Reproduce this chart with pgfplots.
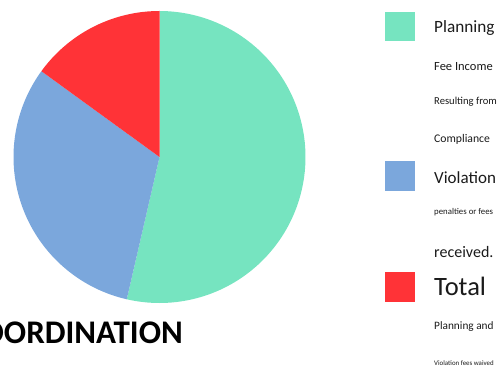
\documentclass[border=0pt]{standalone}
\usepackage{pgfplots}
\usepackage{pgfplotstable}
\pgfplotsset{compat=1.18}
\usepackage{fontspec}
\setmainfont{Carlito}
\definecolor{pgreen}{HTML}{76E4C0}
\definecolor{pblue}{HTML}{7BA7DC}
\definecolor{pred}{HTML}{FF3337}
\definecolor{ptext}{HTML}{1A1A1A}
\pgfplotstableread{
label value
Planning 53.6
Violation 31.4
Total 15.0
}\piedata
\newcommand{\fs}[1]{\fontsize{#1bp}{#1bp}\selectfont}
\begin{document}
\begin{tikzpicture}[x=1bp,y=1bp]
\useasboundingbox (0,0) rectangle (499,367);
\clip (0,0) rectangle (499,367);
\pgfplotstablegetelem{0}{value}\of\piedata \pgfmathsetmacro\va{\pgfplotsretval}
\pgfplotstablegetelem{1}{value}\of\piedata \pgfmathsetmacro\vb{\pgfplotsretval}
\pgfplotstablegetelem{2}{value}\of\piedata \pgfmathsetmacro\vc{\pgfplotsretval}
\pgfmathsetmacro\tot{\va+\vb+\vc}
\pgfmathsetmacro\aA{90-3.6*(\va/\tot)*100}
\pgfmathsetmacro\aB{\aA-3.6*(\vb/\tot)*100}
\begin{axis}[at={(159.5bp,210bp)}, anchor=center, x=146bp, y=146bp,
  xmin=-1, xmax=1, ymin=-1, ymax=1, hide axis, clip=false,
  samples=120, variable=\t]
\addplot[draw=none, fill=pgreen, domain=\aA:90] ({cos(\t)},{sin(\t)}) -- (0,0) -- cycle;
\addplot[draw=none, fill=pblue, domain=\aB:\aA] ({cos(\t)},{sin(\t)}) -- (0,0) -- cycle;
\addplot[draw=none, fill=pred, domain=-270:\aB] ({cos(\t)},{sin(\t)}) -- (0,0) -- cycle;
\end{axis}
% legend
\fill[pgreen] (385,326) rectangle (415,355);
\fill[pblue] (385,176) rectangle (415,206);
\fill[pred] (385,65) rectangle (415,95);
\begin{scope}[every node/.style={anchor=base west, inner sep=0pt, text=ptext}]
\node[font=\fs{17.2}] at (434,335) {Planning};
\node[font=\fs{12.5}] at (434,297) {Fee Income};
\node[font=\fs{10.6}] at (434,263) {Resulting from};
\node[font=\fs{11.7}] at (434,225) {Compliance};
\node[font=\fs{17}] at (434,184) {Violation};
\node[font=\fs{8.8}] at (434,153) {penalties or fees};
\node[font=\fs{16}] at (434,110) {received.};
\node[font=\fs{26.5}] at (434,72) {Total};
\node[font=\fs{11.3}] at (434,38) {Planning and};
\node[font=\fs{6.9}] at (434,2) {Violation fees waived};
\end{scope}
\node[anchor=base east, inner sep=0pt, text=black, font=\bfseries\fs{33}] at (183,24) {COORDINATION};
\end{tikzpicture}
\end{document}
